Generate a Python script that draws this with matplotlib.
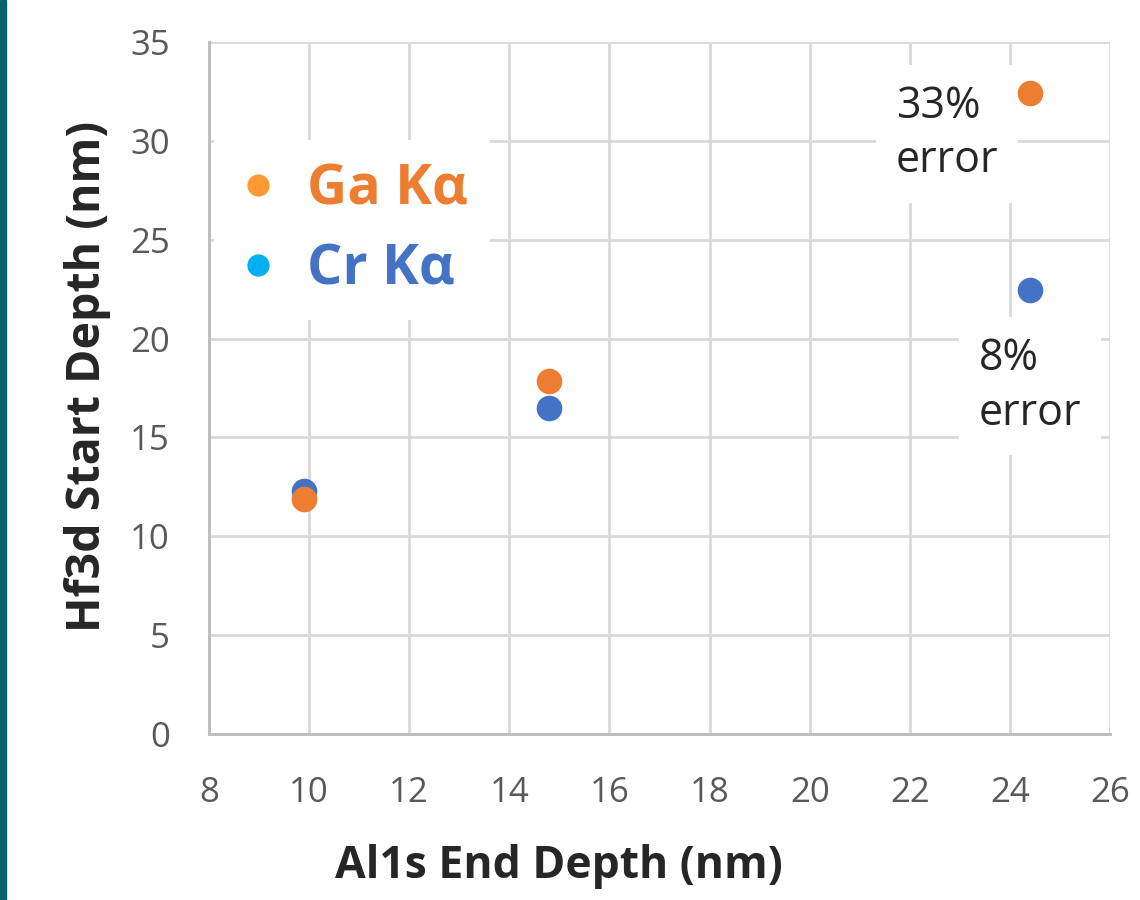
import numpy as np
import matplotlib.pyplot as plt
from matplotlib.lines import Line2D
from matplotlib.patches import Rectangle

# data
al1s_end = [9.9, 14.8, 24.4]
ga_start = [11.9, 17.85, 32.4]
cr_start = [12.3, 16.5, 22.45]
xticks = np.arange(8, 27, 2)
yticks = np.arange(0, 36, 5)

plt.rcParams['font.family'] = ['Open Sans', 'DejaVu Sans']

fig = plt.figure(figsize=(11.4, 9), dpi=100)
ax = fig.add_axes([0.1833, 0.1844, 0.7904, 0.7689])

# teal strip on the left edge
fig.patches.append(Rectangle((0, 0), 0.0055, 1, transform=fig.transFigure,
                             color='#0B6070', zorder=5))

ax.scatter(al1s_end, ga_start, s=340, color='#ED7D31', zorder=4, linewidths=0)
ax.scatter(al1s_end, cr_start, s=340, color='#4472C4', zorder=3, linewidths=0)

ax.set_xlim(8, 26)
ax.set_ylim(0, 35)
ax.set_xticks(xticks)
ax.set_yticks(yticks)
ax.grid(True, color='#D9D9D9', linewidth=2)
ax.set_axisbelow(True)
for s in ['top', 'right']:
    ax.spines[s].set_visible(False)
for s in ['left', 'bottom']:
    ax.spines[s].set_color('#BFBFBF')
    ax.spines[s].set_linewidth(2.2)
ax.tick_params(length=0, labelsize=25, labelcolor='#595959')
ax.tick_params(axis='x', pad=30)
ax.tick_params(axis='y', pad=28)

ax.set_xlabel('Al1s End Depth (nm)', fontsize=32, fontweight='bold',
              color='#262626')
ax.set_ylabel('Hf3d Start Depth (nm)', fontsize=33.5, fontweight='bold',
              color='#262626')
ax.xaxis.set_label_coords(0.388, -0.159)
ax.yaxis.set_label_coords(-0.1087, 0.517)

handles = [Line2D([], [], marker='o', linestyle='', markersize=15,
                  color='#FF9933'),
           Line2D([], [], marker='o', linestyle='', markersize=15,
                  color='#00B0F0')]
leg = ax.legend(handles, ['Ga Kα', 'Cr Kα'], loc='upper left',
                bbox_to_anchor=(0.0055, 0.858), frameon=True, fancybox=False,
                prop={'size': 40, 'weight': 'bold'},
                labelcolor=['#ED7D31', '#4472C4'], handlelength=0.8,
                handletextpad=0.47, labelspacing=0.45, borderpad=0.4,
                borderaxespad=0)
leg.get_frame().set_edgecolor('none')
leg.get_frame().set_alpha(1)

box = dict(facecolor='white', edgecolor='none', pad=14)
ax.text(21.72, 30.35, '33%\nerror', fontsize=31, color='#262626',
        ha='left', va='center', bbox=box, linespacing=1.3)
ax.text(23.38, 17.6, '8%\nerror', fontsize=31, color='#262626',
        ha='left', va='center', bbox=box, linespacing=1.3)

fig.savefig('out.png', dpi=100)
